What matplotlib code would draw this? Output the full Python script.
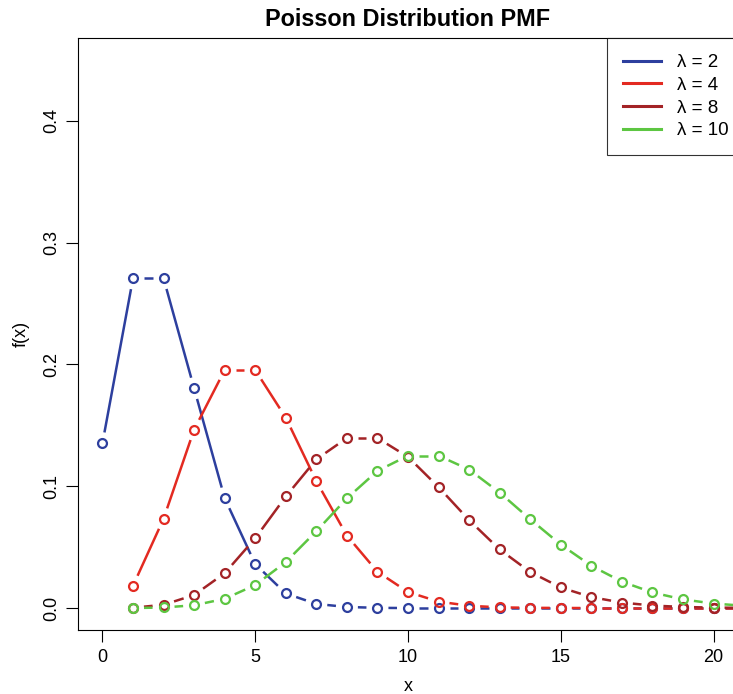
import numpy as np
import matplotlib
matplotlib.use("Agg")
import matplotlib.pyplot as plt
from matplotlib.lines import Line2D

plt.rcParams['font.family'] = ['Liberation Sans', 'DejaVu Sans']

# ---- data ----
x_l2 = list(range(0, 22))
y_l2 = [0.1353, 0.2707, 0.2707, 0.1804, 0.0902, 0.0361, 0.0120, 0.0034, 0.0009, 0.0002,
        0.0000, 0.0000, 0.0000, 0.0000, 0.0000, 0.0000, 0.0000, 0.0000, 0.0000, 0.0000,
        0.0000, 0.0000]
x_l4 = list(range(1, 22))
y_l4 = [0.0183, 0.0733, 0.1465, 0.1954, 0.1954, 0.1563, 0.1042, 0.0595, 0.0298, 0.0132,
        0.0053, 0.0019, 0.0006, 0.0002, 0.0001, 0.0000, 0.0000, 0.0000, 0.0000, 0.0000,
        0.0000]
x_l8 = list(range(1, 22))
y_l8 = [0.0003, 0.0027, 0.0107, 0.0286, 0.0573, 0.0916, 0.1221, 0.1396, 0.1396, 0.1241,
        0.0993, 0.0722, 0.0481, 0.0296, 0.0169, 0.0090, 0.0045, 0.0021, 0.0009, 0.0004,
        0.0002]
x_l10 = list(range(1, 22))
y_l10 = [0.0000, 0.0005, 0.0023, 0.0076, 0.0189, 0.0378, 0.0631, 0.0901, 0.1126, 0.1251,
         0.1251, 0.1137, 0.0948, 0.0729, 0.0521, 0.0347, 0.0217, 0.0128, 0.0071, 0.0037,
         0.0019]
labels = ["λ = 2", "λ = 4", "λ = 8", "λ = 10"]
colors = ["#2d3f9e", "#e32a21", "#a32326", "#5dc642"]

xticks = [0, 5, 10, 15, 20]
yticks = [0.0, 0.1, 0.2, 0.3, 0.4]
ytick_labels = ["0.0", "0.1", "0.2", "0.3", "0.4"]

# ---- figure ----
W, H = 733, 694
fig = plt.figure(figsize=(W / 100, H / 100), dpi=100)
ax_w = 660 / W
ax = fig.add_axes([78 / W, 1 - 630 / H, ax_w, (630 - 38) / H])
ax.set_xlim(-0.8, 20.8)
ax.set_ylim(-0.018, 0.468)

series = [(x_l2, y_l2), (x_l4, y_l4), (x_l8, y_l8), (x_l10, y_l10)]
fig.canvas.draw()
trans = ax.transData
inv = trans.inverted()
gap = 11.0
for (xs, ys), c in zip(series, colors):
    pts = trans.transform(np.column_stack([xs, ys]))
    for i in range(len(pts) - 1):
        p0, p1 = pts[i], pts[i + 1]
        d = p1 - p0
        L = np.hypot(d[0], d[1])
        if L > 2 * gap:
            u = d / L
            seg = inv.transform(np.array([p0 + u * gap, p1 - u * gap]))
            ax.plot(seg[:, 0], seg[:, 1], color=c, lw=1.8, solid_capstyle='butt')
    ax.plot(xs, ys, 'o', color=c, mfc='none', ms=6.4, mew=1.6)

ax.set_xticks(xticks)
ax.set_xticklabels([str(t) for t in xticks])
ax.set_yticks(yticks)
ax.set_yticklabels(ytick_labels, rotation=90, va='center')
ax.tick_params(axis='both', length=8.5, width=0.8, labelsize=13, pad=5)
ax.tick_params(axis='y', pad=4)
for s in ax.spines.values():
    s.set_linewidth(0.8)

ax.set_xlabel("x", fontsize=13, labelpad=9)
ax.set_ylabel("f(x)", fontsize=13, labelpad=10)
ax.set_title("Poisson Distribution PMF", fontsize=16.8, fontweight='bold', pad=9)

handles = [Line2D([], [], color=c, lw=2.2) for c in colors]
leg = ax.legend(handles, labels, loc='upper right', bbox_to_anchor=(1 + 7 / 660, 1),
                borderaxespad=0, fancybox=False, fontsize=13.5, handlelength=2.0,
                handletextpad=0.9, labelspacing=0.3, borderpad=0.85)
leg.get_frame().set_edgecolor('black')
leg.get_frame().set_linewidth(0.8)

fig.savefig("out.png", dpi=100)
